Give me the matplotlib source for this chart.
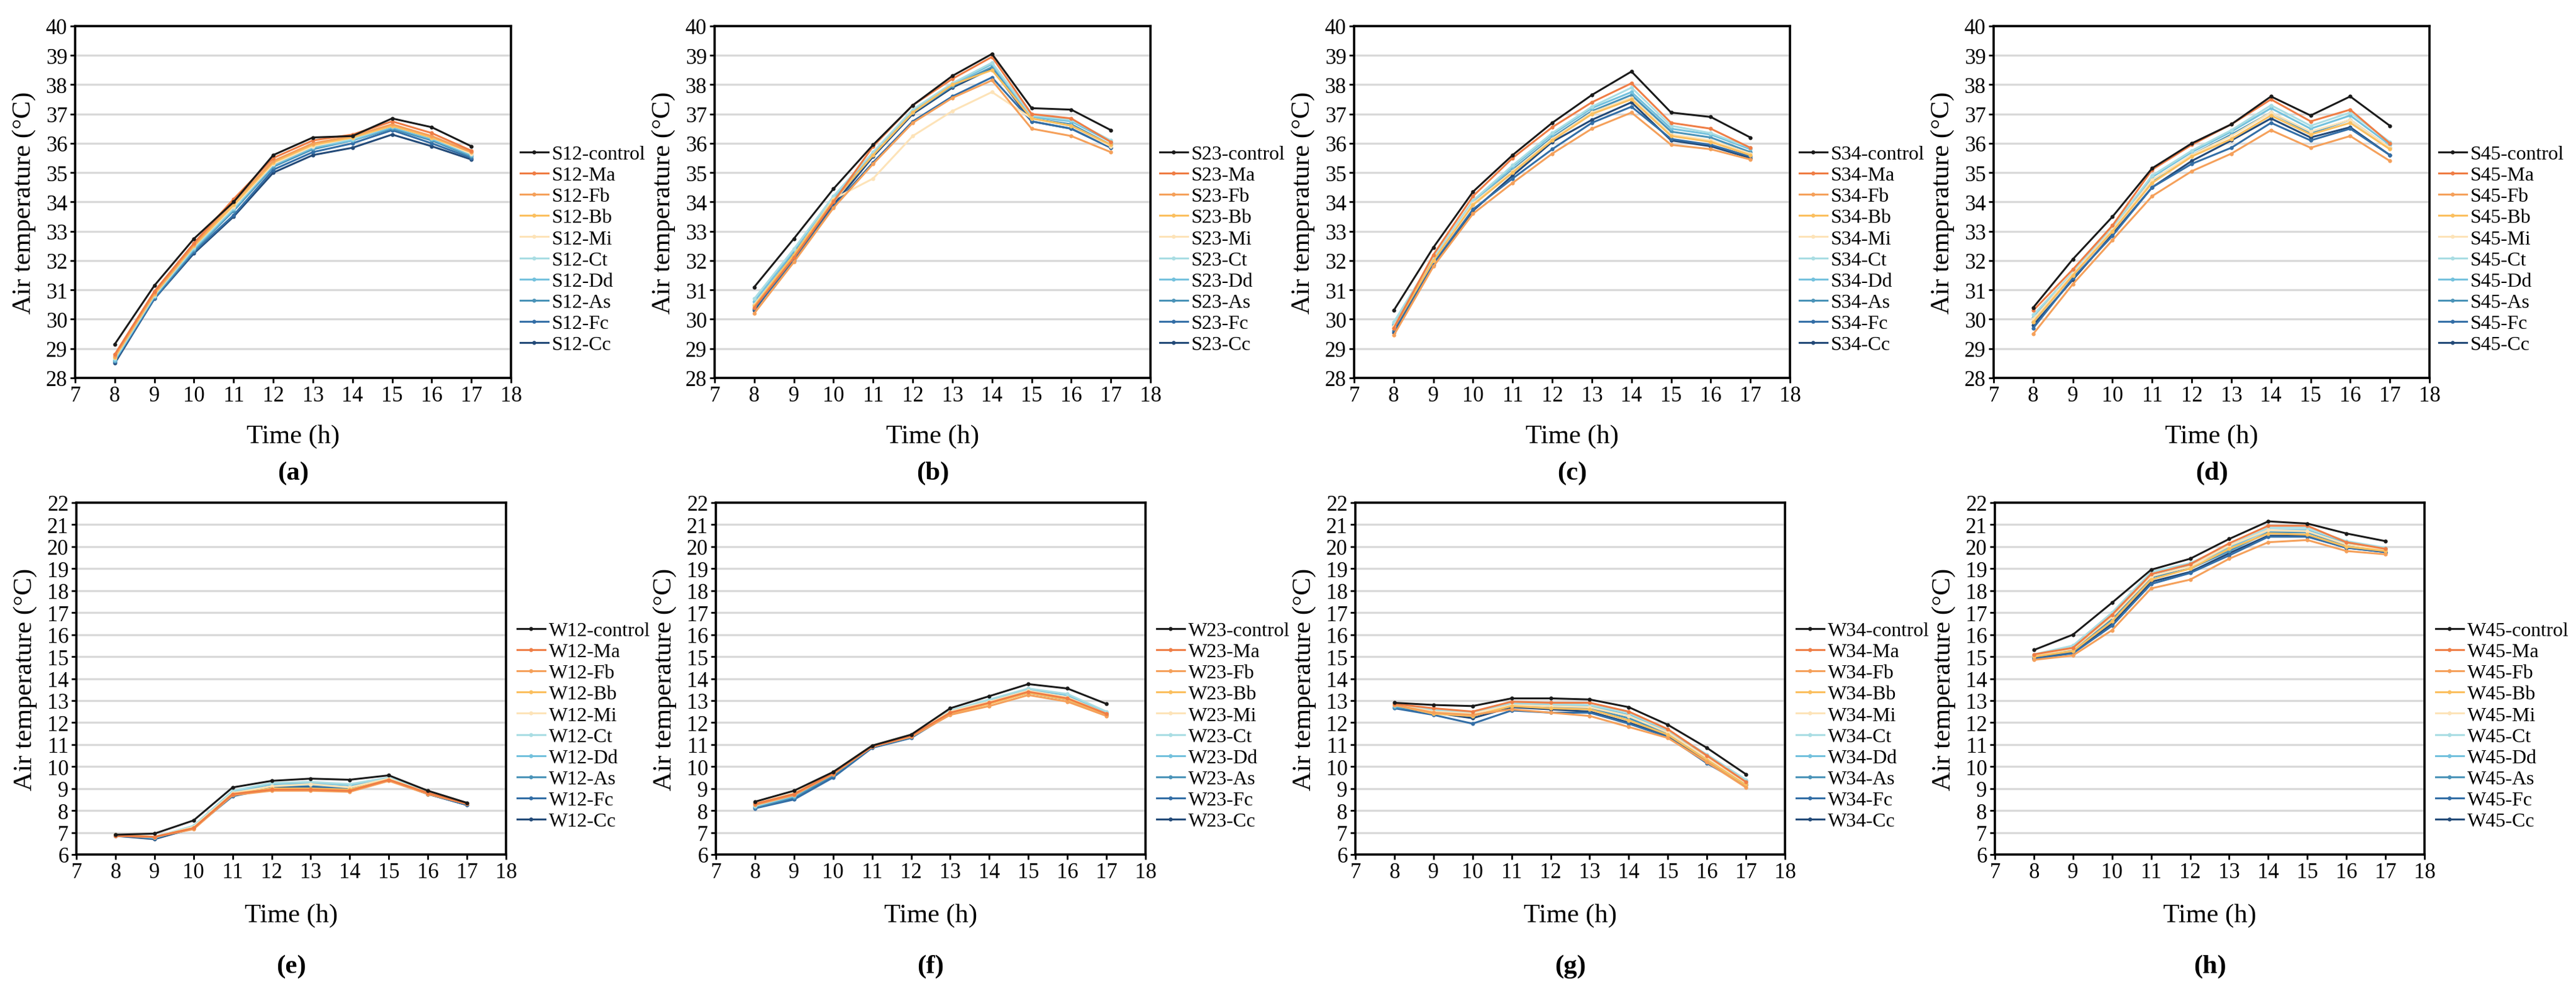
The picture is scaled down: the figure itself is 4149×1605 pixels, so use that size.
import matplotlib
matplotlib.use("Agg")
import matplotlib.pyplot as plt

plt.rcParams['font.family'] = ['Liberation Serif', 'DejaVu Serif']

hours = [8, 9, 10, 11, 12, 13, 14, 15, 16, 17]
treatments = ["control", "Ma", "Fb", "Bb", "Mi", "Ct", "Dd", "As", "Fc", "Cc"]
colors = ["#1a1a1a", "#ef7d45", "#f5a05a", "#fbbf5e", "#fde3b8",
          "#a9dde3", "#73c1dd", "#4a93b8", "#336ea6", "#234a78"]

S12 = [
    [29.15, 31.15, 32.75, 34.0, 35.6, 36.2, 36.25, 36.85, 36.55, 35.9],
    [28.8, 30.95, 32.6, 34.1, 35.5, 36.1, 36.3, 36.75, 36.35, 35.75],
    [28.75, 30.9, 32.55, 34.0, 35.4, 36.0, 36.25, 36.65, 36.25, 35.7],
    [28.7, 30.85, 32.5, 33.9, 35.35, 35.95, 36.2, 36.6, 36.2, 35.7],
    [28.7, 30.85, 32.5, 33.85, 35.3, 35.9, 36.2, 36.6, 36.2, 35.65],
    [28.65, 30.8, 32.45, 33.8, 35.3, 35.9, 36.15, 36.6, 36.2, 35.65],
    [28.6, 30.8, 32.4, 33.75, 35.25, 35.85, 36.1, 36.55, 36.15, 35.6],
    [28.6, 30.75, 32.35, 33.7, 35.2, 35.8, 36.1, 36.5, 36.1, 35.55],
    [28.55, 30.7, 32.3, 33.55, 35.1, 35.7, 36.0, 36.45, 36.0, 35.5],
    [28.5, 30.7, 32.25, 33.5, 35.0, 35.6, 35.85, 36.3, 35.9, 35.45],
]
S23 = [
    [31.1, 32.75, 34.45, 35.95, 37.3, 38.3, 39.05, 37.2, 37.15, 36.45],
    [30.4, 32.1, 34.0, 35.9, 37.3, 38.2, 38.95, 37.0, 36.85, 36.05],
    [30.2, 31.95, 33.8, 35.3, 36.7, 37.55, 38.15, 36.5, 36.25, 35.7],
    [30.45, 32.2, 34.05, 35.6, 37.05, 38.0, 38.5, 36.85, 36.6, 35.95],
    [30.5, 32.2, 34.1, 34.8, 36.25, 37.1, 37.75, 36.85, 36.6, 35.9],
    [30.7, 32.4, 34.2, 35.7, 37.15, 38.05, 38.75, 36.95, 36.8, 36.1],
    [30.6, 32.35, 34.15, 35.65, 37.1, 38.0, 38.7, 36.9, 36.75, 36.05],
    [30.5, 32.25, 34.05, 35.6, 37.05, 37.95, 38.6, 36.85, 36.65, 35.95],
    [30.35, 32.0, 33.85, 35.35, 36.75, 37.6, 38.25, 36.75, 36.5, 35.85],
    [30.3, 32.1, 33.9, 35.55, 37.0, 37.9, 38.55, 36.75, 36.5, 35.85],
]
S34 = [
    [30.3, 32.45, 34.35, 35.6, 36.7, 37.65, 38.45, 37.05, 36.9, 36.2],
    [29.7, 32.2, 34.2, 35.5, 36.55, 37.4, 38.05, 36.7, 36.5, 35.85],
    [29.45, 31.8, 33.6, 34.65, 35.65, 36.5, 37.05, 35.95, 35.8, 35.45],
    [29.7, 32.0, 33.9, 35.0, 36.1, 37.0, 37.5, 36.25, 36.05, 35.6],
    [29.75, 32.0, 33.95, 35.05, 36.15, 37.05, 37.55, 36.3, 36.1, 35.65],
    [29.9, 32.1, 34.05, 35.25, 36.35, 37.25, 37.9, 36.6, 36.35, 35.85],
    [29.85, 32.05, 34.0, 35.2, 36.3, 37.2, 37.75, 36.5, 36.3, 35.8],
    [29.8, 32.0, 33.95, 35.1, 36.2, 37.1, 37.65, 36.4, 36.2, 35.7],
    [29.6, 31.9, 33.75, 34.8, 35.8, 36.7, 37.25, 36.15, 35.95, 35.55],
    [29.55, 31.85, 33.7, 34.9, 36.05, 36.8, 37.4, 36.1, 35.9, 35.5],
]
S45 = [
    [30.4, 32.05, 33.5, 35.15, 36.0, 36.65, 37.6, 36.95, 37.6, 36.6],
    [30.3, 31.7, 33.2, 35.1, 35.95, 36.65, 37.5, 36.75, 37.15, 36.0],
    [29.5, 31.2, 32.7, 34.2, 35.05, 35.65, 36.45, 35.85, 36.25, 35.4],
    [29.9, 31.5, 33.0, 34.65, 35.55, 36.15, 36.95, 36.3, 36.7, 35.8],
    [30.0, 31.55, 33.05, 34.75, 35.6, 36.25, 37.05, 36.4, 36.8, 35.85],
    [30.15, 31.6, 33.15, 34.9, 35.75, 36.45, 37.3, 36.6, 37.05, 36.05],
    [30.05, 31.55, 33.1, 34.85, 35.7, 36.4, 37.2, 36.5, 36.95, 35.95],
    [29.9, 31.5, 33.0, 34.7, 35.6, 36.3, 37.05, 36.35, 36.8, 35.85],
    [29.7, 31.4, 32.85, 34.5, 35.3, 35.85, 36.7, 36.1, 36.5, 35.6],
    [29.8, 31.35, 32.9, 34.5, 35.4, 36.1, 36.85, 36.2, 36.55, 35.6],
]
W12 = [
    [6.9, 6.95, 7.55, 9.05, 9.35, 9.45, 9.4, 9.6, 8.9, 8.35],
    [6.85, 6.8, 7.2, 8.75, 8.95, 8.95, 8.9, 9.4, 8.8, 8.3],
    [6.85, 6.8, 7.15, 8.7, 8.9, 8.9, 8.85, 9.35, 8.75, 8.3],
    [6.9, 6.8, 7.2, 8.75, 9.0, 9.0, 8.95, 9.4, 8.8, 8.3],
    [6.9, 6.8, 7.25, 8.8, 9.1, 9.2, 9.05, 9.45, 8.8, 8.3],
    [6.9, 6.8, 7.3, 8.9, 9.25, 9.3, 9.2, 9.5, 8.85, 8.3],
    [6.9, 6.75, 7.3, 8.85, 9.2, 9.25, 9.15, 9.45, 8.85, 8.3],
    [6.9, 6.75, 7.25, 8.8, 9.1, 9.15, 9.05, 9.45, 8.8, 8.3],
    [6.85, 6.75, 7.2, 8.65, 9.0, 9.05, 9.0, 9.4, 8.75, 8.25],
    [6.85, 6.7, 7.2, 8.7, 9.05, 9.1, 9.0, 9.4, 8.75, 8.25],
]
W23 = [
    [8.4, 8.9, 9.75, 10.95, 11.45, 12.65, 13.2, 13.75, 13.55, 12.85],
    [8.3, 8.75, 9.7, 10.9, 11.4, 12.45, 12.9, 13.4, 13.1, 12.4],
    [8.25, 8.7, 9.65, 10.9, 11.35, 12.35, 12.75, 13.25, 12.95, 12.3],
    [8.3, 8.75, 9.7, 10.9, 11.4, 12.4, 12.85, 13.35, 13.05, 12.35],
    [8.3, 8.8, 9.75, 10.95, 11.45, 12.5, 12.95, 13.45, 13.15, 12.4],
    [8.2, 8.7, 9.75, 10.95, 11.45, 12.55, 13.05, 13.55, 13.3, 12.5],
    [8.2, 8.65, 9.7, 10.9, 11.4, 12.5, 13.0, 13.5, 13.25, 12.45],
    [8.15, 8.6, 9.6, 10.9, 11.35, 12.45, 12.95, 13.4, 13.15, 12.4],
    [8.1, 8.5, 9.5, 10.85, 11.3, 12.4, 12.9, 13.35, 13.05, 12.35],
    [8.15, 8.55, 9.55, 10.9, 11.35, 12.4, 12.95, 13.4, 13.1, 12.4],
]
W34 = [
    [12.9, 12.8, 12.75, 13.1, 13.1, 13.05, 12.7, 11.9, 10.85, 9.65],
    [12.85, 12.65, 12.5, 12.95, 12.9, 12.9, 12.5, 11.7, 10.5, 9.3],
    [12.8, 12.45, 12.35, 12.6, 12.45, 12.3, 11.8, 11.3, 10.2, 9.05],
    [12.8, 12.4, 12.3, 12.75, 12.65, 12.6, 12.1, 11.45, 10.3, 9.15],
    [12.8, 12.5, 12.4, 12.8, 12.75, 12.7, 12.3, 11.55, 10.4, 9.25],
    [12.8, 12.6, 12.45, 12.9, 12.85, 12.8, 12.45, 11.65, 10.55, 9.4],
    [12.75, 12.55, 12.4, 12.85, 12.8, 12.75, 12.35, 11.6, 10.45, 9.35],
    [12.7, 12.5, 12.3, 12.75, 12.7, 12.65, 12.2, 11.5, 10.35, 9.25],
    [12.65, 12.35, 11.95, 12.55, 12.45, 12.45, 11.95, 11.35, 10.15, 9.15],
    [12.7, 12.45, 12.2, 12.7, 12.6, 12.5, 12.0, 11.4, 10.25, 9.2],
]
W45 = [
    [15.3, 16.0, 17.45, 18.95, 19.45, 20.35, 21.15, 21.05, 20.6, 20.25],
    [15.1, 15.4, 16.9, 18.75, 19.2, 20.15, 20.95, 20.95, 20.2, 19.9],
    [14.85, 15.05, 16.2, 18.1, 18.5, 19.45, 20.2, 20.3, 19.8, 19.65],
    [15.0, 15.25, 16.6, 18.5, 19.0, 19.9, 20.6, 20.55, 20.0, 19.8],
    [15.05, 15.35, 16.8, 18.65, 19.1, 20.05, 20.75, 20.7, 20.1, 19.85],
    [15.1, 15.5, 17.0, 18.85, 19.25, 20.05, 20.85, 20.85, 20.25, 19.95],
    [15.05, 15.4, 16.85, 18.75, 19.15, 19.95, 20.75, 20.75, 20.15, 19.9],
    [15.0, 15.3, 16.7, 18.6, 19.0, 19.8, 20.65, 20.65, 20.05, 19.85],
    [14.9, 15.15, 16.4, 18.3, 18.8, 19.6, 20.45, 20.45, 19.95, 19.75],
    [14.95, 15.2, 16.5, 18.4, 18.85, 19.7, 20.5, 20.5, 19.95, 19.75],
]

panels = [
    ("S12", S12, "(a)"), ("S23", S23, "(b)"), ("S34", S34, "(c)"), ("S45", S45, "(d)"),
    ("W12", W12, "(e)"), ("W23", W23, "(f)"), ("W34", W34, "(g)"), ("W45", W45, "(h)"),
]

W, H = 4149, 1606
fig = plt.figure(figsize=(W / 100, H / 100), dpi=100)

top_left = [121, 1151, 2181, 3211]
bot_left = [123, 1153, 2183, 3213]
rows = [(43, 610, 702, 28, 40), (811, 1378, 692, 6, 22)]

for i, (prefix, data, tag) in enumerate(panels):
    r = i // 4
    c = i % 4
    ytop, ybot, wpx, ymin, ymax = rows[r]
    lpx = top_left[c] if r == 0 else bot_left[c]
    ax = fig.add_axes([lpx / W, 1 - ybot / H, wpx / W, (ybot - ytop) / H])
    for k in range(len(treatments) - 1, -1, -1):
        z = 30 if k == 0 else 3 + (10 - k) * 0.1
        ax.plot(hours, data[k], color=colors[k], lw=2.2, marker='o', ms=3.6,
                label=f"{prefix}-{treatments[k]}", zorder=z)
    ax.set_xlim(7, 18)
    ax.set_ylim(ymin, ymax)
    ax.set_xticks(range(7, 19))
    ax.set_yticks(range(ymin, ymax + 1))
    ax.yaxis.grid(True, color='#d9d9d9', lw=2.4, zorder=0)
    ax.set_axisbelow(True)
    for s in ax.spines.values():
        s.set_linewidth(2.6)
        s.set_color('black')
    ax.tick_params(axis='both', direction='out', length=6, width=2, labelsize=25, pad=3)
    handles, labels = ax.get_legend_handles_labels()
    handles = handles[::-1]
    labels = labels[::-1]
    offs = 15 if r == 0 else 18
    ax.legend(handles, labels, loc='center left', bbox_to_anchor=(1 + offs / wpx, 0.365),
              frameon=False, fontsize=23, handlelength=1.4, handletextpad=0.2,
              labelspacing=0.15, borderpad=0, borderaxespad=0, numpoints=1)
    cx = (lpx + wpx / 2) / W
    fig.text((lpx - 82) / W, 1 - ((ytop + ybot) / 2) / H, "Air temperature (°C)",
             rotation=90, ha='center', va='center', fontsize=31)
    tlab_y = 704 if r == 0 else 1476
    plab_y = 763 if r == 0 else 1558
    fig.text(cx, 1 - tlab_y / H, "Time (h)", ha='center', va='center', fontsize=31)
    fig.text(cx, 1 - plab_y / H, tag, ha='center', va='center', fontsize=31, fontweight='bold')

fig.savefig("out.png", dpi=100, facecolor='white')
